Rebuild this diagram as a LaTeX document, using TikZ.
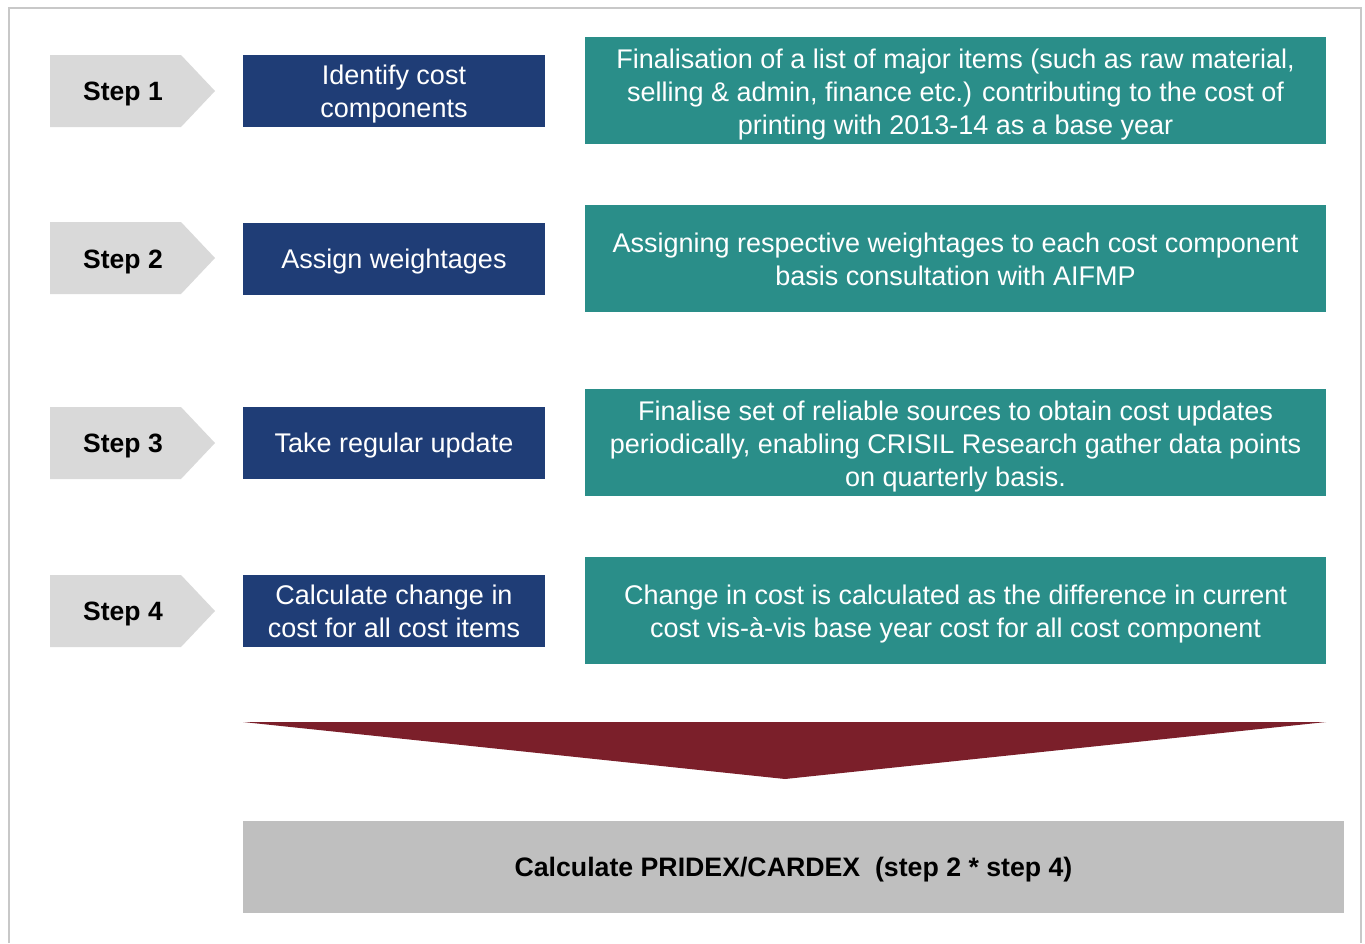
\documentclass[tikz,border=0pt]{standalone}
\usepackage{fontspec}
\setmainfont{Liberation Sans}
\definecolor{stepgray}{RGB}{217,217,217}
\definecolor{navy}{RGB}{31,61,118}
\definecolor{teal2}{RGB}{42,142,137}
\definecolor{wine}{RGB}{123,31,42}
\definecolor{resgray}{RGB}{191,191,191}
\definecolor{framegray}{RGB}{200,200,200}
\tikzset{
  txt/.style={font=\fontsize{27}{33}\selectfont, align=center, inner sep=0pt},
  steplabel/.style={txt, font=\fontsize{26.5}{33}\selectfont\bfseries, text=black, yshift=-3pt},
  actbox/.style={txt, fill=navy, text=white, minimum width=302pt, minimum height=72pt},
  descbox/.style={txt, fill=teal2, text=white, minimum width=741pt, minimum height=107pt},
  resbox/.style={txt, fill=resgray, text=black, minimum width=1101pt, minimum height=92pt},
  wtxt/.style={txt, text=white},
}
\begin{document}
\begin{tikzpicture}[x=1pt, y=-1pt]
\useasboundingbox (0,0) rectangle (1365,943);
\fill[white] (0,0) rectangle (1365,943);
\draw[framegray, line width=2pt] (9,943) -- (9,8) -- (1361,8) -- (1361,943);

% step chevrons
\foreach \t in {55, 222, 407, 575}{
  \fill[stepgray] (50,\t) -- (181,\t) -- (215,\t+36) -- (181,\t+72) -- (50,\t+72) -- cycle;
}
\node[steplabel] (s1) at (123,91) {Step 1};
\node[steplabel] (s2) at (123,258.5) {Step 2};
\node[steplabel] (s3) at (123,443) {Step 3};
\node[steplabel] (s4) at (123,611) {Step 4};

% action boxes (fill) and their texts
\node[actbox] (a1) at (394,91) {};
\node[wtxt, yshift=-3pt] (t1) at (a1) {Identify cost\\components};
\node[actbox] (a2) at (394,258.5) {};
\node[wtxt, yshift=-3pt] (t2) at (a2) {Assign weightages};
\node[actbox] (a3) at (394,443) {};
\node[wtxt, yshift=-3pt] (t3) at (a3) {Take regular update};
\node[actbox] (a4) at (394,611) {};
\node[wtxt, yshift=0pt] (t4) at (a4) {Calculate change in\\cost for all cost items};

% description boxes and their texts
\node[descbox] (d1) at (955.5,90.5) {};
\node[wtxt, yshift=-4pt] (e1) at (d1) {Finalisation of a list of major items (such as raw material,\\selling \& admin, finance etc.) contributing to the cost of\\printing with 2013-14 as a base year};
\node[descbox] (d2) at (955.5,258) {};
\node[wtxt, yshift=-1pt] (e2) at (d2) {Assigning respective weightages to each cost component\\basis consultation with AIFMP};
\node[descbox] (d3) at (955.5,442.5) {};
\node[wtxt, yshift=-4.5pt] (e3) at (d3) {Finalise set of reliable sources to obtain cost updates\\periodically, enabling CRISIL Research gather data points\\on quarterly basis.};
\node[descbox] (d4) at (955.5,610.5) {};
\node[wtxt, yshift=-4pt] (e4) at (d4) {Change in cost is calculated as the difference in current\\cost vis-à-vis base year cost for all cost component};

% funnel
\coordinate (fl) at (243,722);
\coordinate (fr) at (1326,722);
\coordinate (ft) at (785,779);
\fill[wine] (fl) -- (fr) -- (ft) -- cycle;

% result
\node[resbox] (r) at (793.5,867) {};
\node[txt, font=\fontsize{26.7}{33}\selectfont\bfseries, text=black, yshift=-3pt] (rt) at (r) {Calculate PRIDEX/CARDEX\ \ (step 2 * step 4)};
\end{tikzpicture}
\end{document}
